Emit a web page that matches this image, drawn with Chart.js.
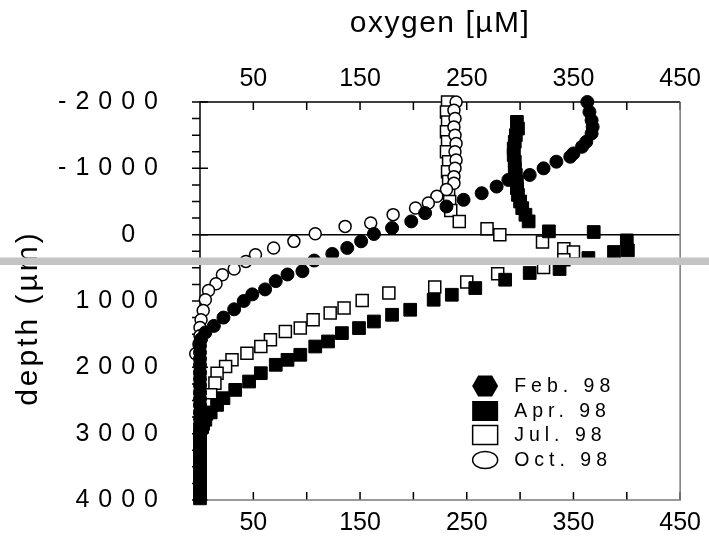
<!DOCTYPE html>
<html><head><meta charset="utf-8">
<script src="https://cdn.jsdelivr.net/npm/chart.js@4.4.1/dist/chart.umd.min.js"></script>
<style>html,body{margin:0;padding:0;background:#fff;}canvas{display:block;}</style>
</head><body>
<canvas id="c" width="709" height="539"></canvas>
<script>
// ---- data (oxygen in µM vs depth in µm) ----
const seriesLabels = ['Feb. 98', 'Apr. 98', 'Jul. 98', 'Oct. 98'];
const xTitle = 'oxygen [µM]';
const yTitle = 'depth (µm)';
const xTickLabels = ['50', '150', '250', '350', '450'];
const yTickLabels = ['-2000', '-1000', '0', '1000', '2000', '3000', '4000'];

const depthFeb = [-2000,-1850,-1725,-1625,-1525,-1400,-1325,-1225,-1175,-1100,-1000,-900,-825,-725,-625,-525,-425,-325,-200,-100,-10,100,200,290,390,550,600,700,825,900,1000,1125,1250,1375,1475,1575,1675,1775,1875,1975,2075,2175,2275,2375,2475,2575,2675,2775,2875,2975,3075,3175,3275,3375,3475,3575,3675,3775,3875,3960];
const oxyFeb   = [363,365,367,368,367,362,358,350,347,334,322,309,289,278,264,247,231,211,198,180,163,151,138,124,107,96,82,71,61,49,41,32,22,13,5,1,0,0,0,0,0,0,0,0,0,0,0,0,0,0,0,0,0,0,0,0,0,0,0,0];

const depthApr = [-1700,-1600,-1500,-1400,-1300,-1200,-1100,-1000,-900,-800,-700,-600,-500,-400,-300,-200,-50,-40,86,237,261,352,518,578,679,805,906,981,1132,1208,1309,1408,1484,1610,1686,1811,1887,1962,2088,2214,2340,2465,2566,2680,2790,2900,3000,3100,3200,3300,3400,3500,3600,3700,3800,3900,3975];
const oxyApr   = [297,298,296,295,294,294,295,295,296,297,297,298,300,302,305,308,327,369,400,401,388,364,337,309,286,258,236,219,197,180,163,149,133,120,108,94,82,71,57,46,33,22,16,10,5,2,0,0,0,0,0,0,0,0,0,0,0];

const depthJul = [-2000,-1850,-1700,-1550,-1400,-1250,-1100,-950,-800,-650,-500,-365,-200,-90,0,110,211,261,377,494,589,714,789,880,992,1106,1182,1283,1408,1460,1583,1686,1786,1887,1988,2088,2238,2415,2566,2700,2850];
const oxyJul   = [232,231,232,231,232,231,233,232,233,233,234,235,243,269,281,321,341,350,341,322,279,250,220,177,152,135,122,106,94,80,66,57,44,30,24,16,14,10,10,6,3];

const depthOct = [-2000,-1875,-1750,-1625,-1500,-1375,-1250,-1125,-1000,-875,-775,-680,-578,-478,-403,-302,-177,-125,-15,101,201,302,403,518,604,740,841,981,1143,1283,1400,1525,1650,1796,1950,2100,2250,2400,2550,2700,2850,3000,3150,3300,3450,3600,3750,3900];
const oxyOct   = [240,238,239,238,239,240,239,240,239,238,238,231,222,214,202,181,160,136,108,88,69,52,43,32,21,15,8,5,3,1,0,0,-1,-4,0,0,0,0,0,0,0,0,0,0,0,0,0,0];

// ---- chart ----
const FONT = "'Liberation Sans', Arial, Helvetica, sans-serif";
Chart.defaults.font.family = FONT;
Chart.defaults.color = '#000';

const pairs = (xs, ys) => xs.map((x, i) => ({ x: x, y: ys[i] }));

const legendMarkers = ['hex', 'fillRect', 'openRect', 'openEllipse'];

const textSpacing = {
  id: 'textSpacing',
  beforeDraw(chart) {
    const wrap = (scale, fn, spacing, dy) => {
      if (scale['_wrapped_' + fn]) return;
      const orig = scale[fn].bind(scale);
      scale[fn] = function (...args) {
        const ctx = this.ctx;
        ctx.save();
        ctx.letterSpacing = spacing;
        if (dy) ctx.translate(0, dy);
        orig(...args);
        ctx.restore();
      };
      scale['_wrapped_' + fn] = true;
    };
    wrap(chart.scales.y, 'drawLabels', '9px', 0);
    wrap(chart.scales.y, 'drawTitle', '3px', 17);
    wrap(chart.scales.x2, 'drawTitle', '1.5px', 0);
  }
};

const axisDecor = {
  id: 'axisDecor',
  beforeDatasetsDraw(chart) {
    const { ctx, chartArea: a, scales } = chart;
    ctx.save();
    ctx.lineWidth = 1.5;
    ctx.strokeStyle = '#000';
    ctx.beginPath();
    scales.y.ticks.forEach(t => {
      const p = scales.y.getPixelForValue(t.value);
      const major = yTickLabels.includes(String(t.value));
      ctx.moveTo(a.left - 8, p);
      ctx.lineTo(major ? a.left + 8 : a.left, p);
    });
    scales.x.ticks.forEach(t => {
      if (t.value === 0) return;
      const p = scales.x.getPixelForValue(t.value);
      ctx.moveTo(p, a.bottom); ctx.lineTo(p, a.bottom - 8);
      ctx.moveTo(p, a.top); ctx.lineTo(p, a.top + 8);
    });
    ctx.stroke();
    ctx.beginPath();
    ctx.moveTo(a.left, a.bottom); ctx.lineTo(a.left, a.top); ctx.lineTo(a.right, a.top);
    ctx.stroke();
    ctx.strokeStyle = '#7a7a7a';
    ctx.beginPath();
    ctx.moveTo(a.left, a.bottom); ctx.lineTo(a.right, a.bottom); ctx.lineTo(a.right, a.top);
    ctx.stroke();
    ctx.restore();
  }
};

const overlay = {
  id: 'overlay',
  afterDraw(chart) {
    const { ctx, chartArea: a } = chart;
    ctx.save();
    // legend inside plot
    const mx = a.right - 195, tx = a.right - 166;
    const rowY = [a.bottom - 114, a.bottom - 89, a.bottom - 65, a.bottom - 40];
    ctx.font = '19.5px ' + FONT;
    ctx.letterSpacing = '5px';
    ctx.textBaseline = 'middle';
    ctx.textAlign = 'left';
    chart.data.datasets.forEach((ds, i) => {
      const y = rowY[i];
      ctx.lineWidth = 1.5;
      ctx.strokeStyle = '#000';
      ctx.fillStyle = '#000';
      const m = legendMarkers[i];
      if (m === 'hex') {
        ctx.beginPath();
        ctx.moveTo(mx - 13, y); ctx.lineTo(mx - 7, y - 10.5); ctx.lineTo(mx + 7, y - 10.5);
        ctx.lineTo(mx + 13, y); ctx.lineTo(mx + 7, y + 10.5); ctx.lineTo(mx - 7, y + 10.5);
        ctx.closePath(); ctx.fill();
      } else if (m === 'fillRect') {
        ctx.fillRect(mx - 13, y - 10, 26, 20);
      } else if (m === 'openRect') {
        ctx.strokeRect(mx - 12.5, y - 9.5, 25, 19);
      } else {
        ctx.beginPath(); ctx.ellipse(mx, y, 12.5, 8.5, 0, 0, Math.PI * 2); ctx.stroke();
      }
      ctx.fillStyle = '#000';
      ctx.fillText(ds.label, tx, y + 1);
    });
    ctx.letterSpacing = '0px';
    // grey band artefact across the image
    ctx.fillStyle = '#c4c4c4';
    ctx.fillRect(0, 257.5, chart.width, 7.5);
    ctx.restore();
  }
};

const baseX = {
  type: 'linear', min: 0, max: 450,
  grid: { display: false, drawTicks: false },
  border: { display: false },
  ticks: {
    stepSize: 50, autoSkip: false, maxRotation: 0, padding: 8,
    font: { size: 25 }, color: '#000',
    callback: v => (xTickLabels.includes(String(v)) ? String(v) : '')
  }
};

new Chart(document.getElementById('c'), {
  type: 'scatter',
  data: {
    datasets: [
      { label: seriesLabels[0], data: pairs(oxyFeb, depthFeb), pointStyle: 'circle', pointRadius: 6.5,
        backgroundColor: '#000', borderColor: '#000', borderWidth: 1, order: 1, clip: false },
      { label: seriesLabels[1], data: pairs(oxyApr, depthApr), pointStyle: 'rect', pointRadius: 9,
        backgroundColor: '#000', borderColor: '#000', borderWidth: 1, order: 2, clip: false },
      { label: seriesLabels[2], data: pairs(oxyJul, depthJul), pointStyle: 'rect', pointRadius: 8.5,
        backgroundColor: '#fff', borderColor: '#000', borderWidth: 1.5, order: 4, clip: false },
      { label: seriesLabels[3], data: pairs(oxyOct, depthOct), pointStyle: 'circle', pointRadius: 6,
        backgroundColor: '#fff', borderColor: '#000', borderWidth: 1.5, order: 3, clip: false }
    ]
  },
  options: {
    responsive: false,
    animation: false,
    events: [],
    devicePixelRatio: 1,
    layout: { padding: { left: 0, right: 28, top: 0, bottom: 0 } },
    plugins: { legend: { display: false }, tooltip: { enabled: false } },
    scales: {
      x: Object.assign({}, baseX, {
        position: 'bottom',
        afterFit: s => { s.height = 39; }
      }),
      x2: Object.assign({}, baseX, {
        position: 'top',
        ticks: Object.assign({}, baseX.ticks),
        title: { display: true, text: xTitle, font: { size: 30 }, color: '#000', padding: { top: 6, bottom: 0 } },
        afterFit: s => { s.height = 102; }
      }),
      y: {
        type: 'linear', reverse: true, min: -2000, max: 4000,
        grid: {
          display: true, drawTicks: false, lineWidth: 1.5,
          color: c => (c.tick && c.tick.value === 0 ? '#000' : 'rgba(0,0,0,0)')
        },
        border: { display: false },
        ticks: {
          stepSize: 250, autoSkip: false, padding: 33,
          font: { size: 25 }, color: '#000',
          callback: v => {
            const s = String(v);
            if (!yTickLabels.includes(s)) return '';
            return v === 0 ? s + '\u2007' : s;
          }
        },
        title: { display: true, text: yTitle, font: { size: 30 }, color: '#000', padding: { top: 10.5, bottom: 0 } },
        afterFit: s => { s.width = 200; s.paddingTop = 0; s.paddingBottom = 0; }
      }
    }
  },
  plugins: [textSpacing, axisDecor, overlay]
});
</script>
</body></html>
